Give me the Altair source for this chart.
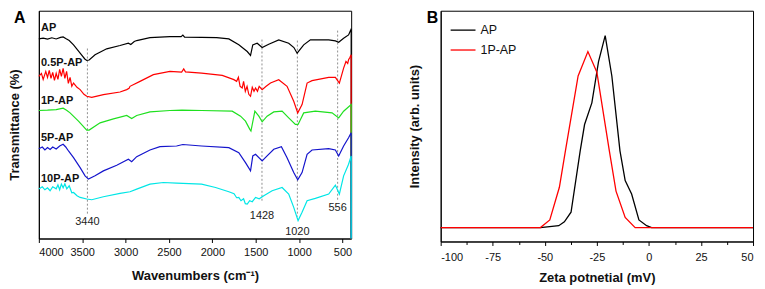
import altair as alt
import pandas as pd

FONT = "Liberation Sans"

# ---------------- Panel A: FTIR spectra (arbitrary transmittance units) ----------------
samples = ["AP", "0.5P-AP", "1P-AP", "5P-AP", "10P-AP"]
colors_a = ["#000000", "#ff0000", "#1fe01f", "#1414cc", "#00e6e6"]

spec_ap = [(4000, 200.7), (3950, 201.5), (3900, 200.5), (3850, 201.8), (3800, 200.6), (3750, 202.2),
           (3720, 202.6), (3690, 201.0), (3650, 199.0), (3600, 194.7), (3524, 186.3), (3470, 180.5),
           (3448, 179.0), (3420, 179.5), (3352, 184.7), (3218, 190.7), (3064, 194.0), (2968, 196.3),
           (2940, 195.0), (2900, 198.0), (2872, 199.0), (2719, 202.0), (2489, 203.0), (2360, 203.0),
           (2340, 204.5), (2320, 202.5), (2124, 202.3), (1950, 202.0), (1810, 200.7), (1695, 194.7),
           (1598, 188.0), (1560, 184.0), (1534, 194.7), (1483, 196.3), (1426, 192.0), (1350, 195.3),
           (1235, 199.7), (1120, 196.3), (1060, 192.0), (1023, 186.3), (947, 194.7), (870, 199.7),
           (659, 199.7), (582, 198.7), (544, 197.3), (487, 201.3), (430, 204.7), (405, 209.7),
           (400, 211.0), (400, 0)]

spec_05p = [(4000, 163), (3970, 166), (3950, 160), (3920, 168), (3900, 162), (3880, 169), (3860, 161),
            (3840, 167), (3820, 159), (3800, 166), (3780, 160), (3760, 170), (3740, 163), (3720, 171),
            (3700, 161), (3680, 168), (3660, 156), (3640, 162), (3620, 153), (3600, 156.3), (3560, 152),
            (3524, 149.7), (3480, 145), (3448, 143), (3390, 142), (3256, 144.7), (3064, 147.3),
            (2987, 149.7), (2960, 151), (2949, 153), (2834, 158), (2680, 164.7), (2489, 168),
            (2354, 167.3), (2330, 170.5), (2310, 167.5), (2124, 166.3), (1886, 164), (1752, 159.7),
            (1720, 158), (1700, 162), (1680, 153), (1656, 151.3), (1640, 158), (1620, 148), (1600, 153),
            (1580, 145), (1560, 143), (1540, 152), (1520, 148), (1502, 151.3), (1480, 148), (1460, 153),
            (1426, 149.7), (1380, 153), (1330, 156.3), (1235, 159.7), (1139, 153), (1062, 138),
            (1016, 126.3), (966, 134.7), (908, 156.3), (851, 158.7), (659, 162), (582, 162),
            (536, 156.3), (487, 171.3), (460, 178), (440, 176), (430, 179.7), (415, 182), (400, 184.7),
            (400, 0)]

spec_1p = [(4000, 128.7), (3900, 129), (3800, 129.5), (3720, 131), (3680, 129), (3640, 126.3),
           (3543, 118), (3448, 109), (3420, 109), (3294, 116.3), (3140, 120.3), (2987, 123.7),
           (2930, 120.7), (2872, 123.7), (2719, 127.3), (2489, 128.7), (2350, 129), (2124, 128.7),
           (1771, 128), (1675, 123), (1618, 118), (1568, 109.7), (1555, 108), (1510, 128), (1464, 123),
           (1426, 117.3), (1369, 123), (1292, 127.3), (1196, 128), (1120, 121.3), (1043, 114.7),
           (1012, 114.7), (947, 126.3), (813, 128), (620, 126.3), (544, 121.3), (487, 128),
           (400, 134.7), (400, 0)]

spec_5p = [(4000, 90.3), (3960, 92), (3930, 89), (3900, 91.5), (3870, 89.5), (3840, 92), (3800, 90),
           (3760, 93), (3720, 94.7), (3690, 92), (3658, 88), (3600, 81.3), (3524, 71.3), (3467, 63),
           (3428, 59.7), (3352, 63), (3256, 68), (3102, 73.7), (2968, 79.7), (2930, 77.3), (2872, 82.3),
           (2719, 89), (2604, 92.3), (2412, 93), (2340, 94.5), (2124, 93), (1810, 91.3), (1695, 86.3),
           (1618, 76.3), (1560, 68), (1534, 83), (1502, 84.7), (1426, 78), (1369, 83), (1292, 89.7),
           (1204, 92.3), (1139, 81.3), (1062, 66.3), (1016, 59), (966, 66.3), (908, 84.7), (851, 89),
           (659, 90.3), (582, 89), (544, 83), (487, 93), (430, 101.3), (400, 106.3), (400, 0)]

spec_10p = [(4000, 49.7), (3960, 52), (3930, 49), (3900, 51), (3870, 48), (3840, 52), (3800, 50),
            (3780, 54), (3760, 49), (3740, 54.7), (3720, 51), (3700, 55), (3678, 50), (3650, 53),
            (3620, 46), (3600, 46.3), (3560, 43), (3524, 41.3), (3448, 39.7), (3390, 39), (3256, 42),
            (3064, 45.3), (2949, 47), (2872, 49.7), (2719, 54.7), (2565, 56.3), (2412, 55.7),
            (2124, 54.7), (1963, 51.3), (1810, 47), (1750, 45), (1720, 41), (1695, 41.3), (1670, 38),
            (1640, 40), (1620, 35), (1598, 34.7), (1570, 38), (1540, 37), (1502, 41.3), (1460, 40),
            (1407, 43), (1311, 48), (1196, 51.3), (1120, 44.7), (1062, 31.3), (1012, 18), (966, 26.3),
            (908, 38), (813, 40.3), (659, 44.7), (582, 53.7), (536, 44.7), (487, 63), (430, 74.7),
            (400, 83), (400, 0)]

spectra = [spec_ap, spec_05p, spec_1p, spec_5p, spec_10p]

# sample-name annotations (wavenumber, transmittance)
label_wn = [3975, 3975, 3975, 3975, 3975]
label_t = [211.3, 176, 138, 100.7, 59.5]

# marked bands
peak_wn = [3440, 1428, 1020, 556]
peak_top = [191, 200, 199, 209]
peak_bottom = [25, 38, 22, 38]
peak_label_t = [16.3, 23, 6.3, 31]

wn_ticks = [4000, 3750, 3500, 3250, 3000, 2750, 2500, 2250, 2000, 1750, 1500, 1250, 1000, 750, 500]

# ---------------- Panel B: zeta potential ----------------
zeta_samples = ["AP", "1P-AP"]
colors_b = ["#000000", "#ff0000"]
zeta_ap_x = [-100, -52.1, -43.3, -40.6, -37.4, -33.0, -30.9, -27.4, -24.2, -21.0, -17.8, -13.9,
             -11.4, -8.3, -4.8, -1.1, 1.3, 50]
zeta_ap_y = [0, 0, 0.01, 0.03, 0.08, 0.40, 0.537, 0.65, 0.865, 1.0, 0.79, 0.40,
             0.245, 0.175, 0.04, 0.01, 0, 0]
zeta_1p_x = [-100, -52.1, -47.6, -43.0, -40.1, -34.0, -29.3, -25.0, -19.0, -15.8, -11.4, -6.6, 50]
zeta_1p_y = [0, 0, 0.04, 0.21, 0.40, 0.79, 0.917, 0.81, 0.40, 0.19, 0.053, 0, 0]
zeta_ticks = [-100, -87.5, -75, -62.5, -50, -37.5, -25, -12.5, 0, 12.5, 25, 37.5, 50]

# ---------------- build tables ----------------
rows = []
for name, pts in zip(samples, spectra):
    for i, (w, t) in enumerate(pts):
        rows.append({"sample": name, "wn": w, "t": t, "i": i})
df_a = pd.DataFrame(rows)
df_lab = pd.DataFrame({"sample": samples, "wn": label_wn, "t": label_t})
df_peaks = pd.DataFrame({"wn": peak_wn, "top": peak_top, "bottom": peak_bottom,
                         "lt": peak_label_t, "label": [str(p) for p in peak_wn]})

rows = []
for name, xs, ys in [("AP", zeta_ap_x, zeta_ap_y), ("1P-AP", zeta_1p_x, zeta_1p_y)]:
    for i, (x, y) in enumerate(zip(xs, ys)):
        rows.append({"zsample": name, "z": x, "inten": y, "i": i})
df_b = pd.DataFrame(rows)

# ---------------- Panel A chart ----------------
x_a = alt.X("wn:Q",
            scale=alt.Scale(domain=[400, 4000], reverse=True, nice=False, zero=False),
            axis=alt.Axis(title="Wavenumbers (cm⁻¹)", values=wn_ticks,
                          labelExpr="datum.value % 500 == 0 ? '' + datum.value : ''",
                          tickSize={"condition": {"test": "datum.value % 500 != 0", "value": 3}, "value": 4},
                          labelPadding=4, titlePadding=12, grid=False))
y_a = alt.Y("t:Q", scale=alt.Scale(domain=[0, 229], nice=False, zero=False),
            axis=alt.Axis(title="Transmittance (%)", labels=False, ticks=False, grid=False, titlePadding=17))

rules_a = alt.Chart(df_peaks).mark_rule(color="#8f8f8f", strokeDash=[2, 2], strokeWidth=1).encode(
    x=alt.X("wn:Q"), y=alt.Y("top:Q"), y2="bottom:Q")
lines_a = alt.Chart(df_a).mark_line(strokeWidth=1.2).encode(
    x=x_a, y=y_a,
    color=alt.Color("sample:N", scale=alt.Scale(domain=samples, range=colors_a), legend=None),
    order=alt.Order("i:Q"))
peak_text = alt.Chart(df_peaks).mark_text(font=FONT, fontSize=11, color="#222222",
                                          align="center", baseline="middle").encode(
    x="wn:Q", y="lt:Q", text="label:N")
sample_text = alt.Chart(df_lab).mark_text(font=FONT, fontSize=11, fontWeight="bold", color="#111111",
                                          align="left", baseline="middle").encode(
    x="wn:Q", y="t:Q", text="sample:N")
letter_a = alt.Chart(pd.DataFrame({"p": ["A"]})).mark_text(
    font=FONT, fontSize=16, fontWeight="bold", align="left", baseline="top").encode(
    text="p:N", x=alt.value(-25), y=alt.value(-1))

panel_a = alt.layer(rules_a, lines_a, peak_text, sample_text, letter_a).properties(width=314, height=229)

# ---------------- Panel B chart ----------------
lines_b = alt.Chart(df_b).mark_line(strokeWidth=1.3).encode(
    x=alt.X("z:Q", scale=alt.Scale(domain=[-100, 50], nice=False, zero=False),
            axis=alt.Axis(title="Zeta potnetial (mV)", values=zeta_ticks,
                          labelExpr="datum.value % 25 == 0 ? '' + datum.value : ''",
                          tickSize={"condition": {"test": "datum.value % 25 != 0", "value": 3}, "value": 4},
                          labelPadding=6, titlePadding=9, grid=False)),
    y=alt.Y("inten:Q", scale=alt.Scale(domain=[-0.0725, 1.13], nice=False, zero=False),
            axis=alt.Axis(title="Intensity (arb. units)", labels=False, ticks=False, grid=False, titlePadding=19)),
    color=alt.Color("zsample:N", scale=alt.Scale(domain=zeta_samples, range=colors_b),
                    legend=alt.Legend(title=None, orient="none", legendX=9, legendY=6,
                                      symbolType="stroke", symbolSize=625, symbolStrokeWidth=1.3,
                                      labelFont=FONT, labelFontSize=12.5, labelColor="#111111",
                                      labelOffset=4, padding=0, rowPadding=-3.5)),
    order=alt.Order("i:Q"))
letter_b = alt.Chart(pd.DataFrame({"p": ["B"]})).mark_text(
    font=FONT, fontSize=16, fontWeight="bold", align="left", baseline="top").encode(
    text="p:N", x=alt.value(-14), y=alt.value(-1))

panel_b = alt.layer(lines_b, letter_b).properties(width=314, height=232)

chart = alt.hconcat(panel_a, panel_b, spacing=54).resolve_scale(color="independent").properties(
    padding=0
).configure_view(stroke="#000000", strokeWidth=1).configure_axis(
    domainColor="#000000", domainWidth=1, tickColor="#000000", tickWidth=1,
    labelFont=FONT, labelFontSize=11, labelColor="#111111",
    titleFont=FONT, titleFontSize=13, titleFontWeight="bold", titleColor="#111111"
)

chart.save("out.html", embed_options={"renderer": "svg", "actions": False})
